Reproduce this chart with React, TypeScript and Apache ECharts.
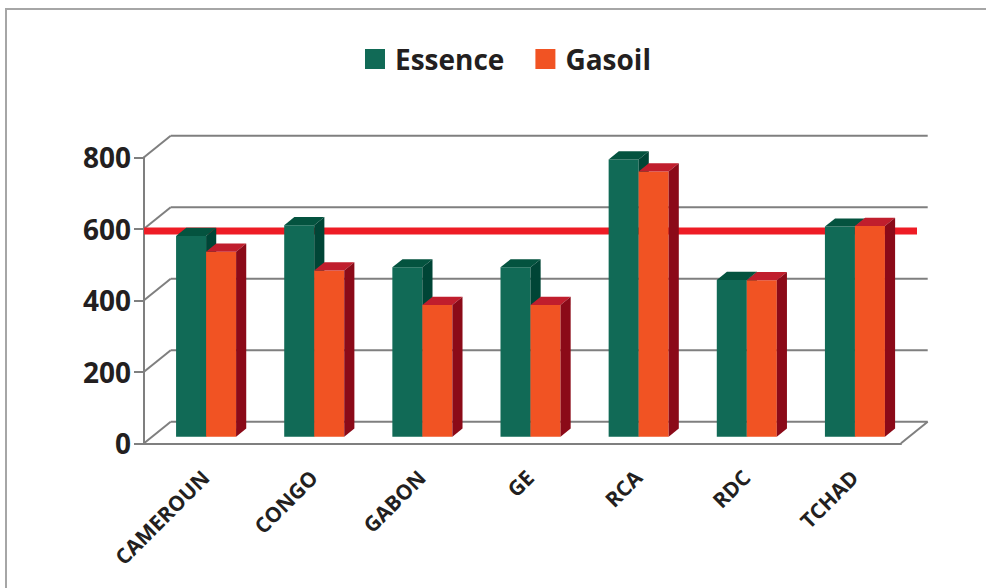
import React, { useEffect, useRef } from "react";
import * as echarts from "echarts";

// Prix à la pompe par pays (FCFA / litre)
const CATEGORIES = ["CAMEROUN", "CONGO", "GABON", "GE", "RCA", "RDC", "TCHAD"];
const ESSENCE = [562, 592, 474, 474, 776, 439, 588];
const GASOIL = [518, 465, 369, 369, 742, 438, 590];
const Y_TICKS = [0, 200, 400, 600, 800];
const REFERENCE = 594;

// Oblique projection of the chart box: back wall offset in pixels
const DX = 26.7;
const DY = -21.6;
// Bars sit between these depth fractions of the box
const BAR_FRONT = 0.3;
const BAR_DEPTH = 0.38;
const BAR_FRAC = 0.2775;

const FONT = "'Open Sans', 'Noto Sans', sans-serif";
const TEXT = "#231f20";
const AXIS = "#7f7f7f";

const ESSENCE_COLORS = { front: "#116a56", top: "#04533f", side: "#004536" };
const GASOIL_COLORS = { front: "#f15323", top: "#c01e2d", side: "#8b0a18" };

function barRenderer(side: "left" | "right", c: { front: string; top: string; side: string }) {
  return (params: any, api: any) => {
    const cat = api.value(0);
    const v = api.value(1);
    const [cx, yTop0] = api.coord([cat, v]);
    const [, yBot0] = api.coord([cat, 0]);
    const band = api.size([1, 0])[0];
    const w = band * BAR_FRAC;
    const ox = BAR_FRONT * DX;
    const oy = BAR_FRONT * DY;
    const x0 = side === "left" ? cx + ox - w : cx + ox;
    const x1 = x0 + w;
    const yt = yTop0 + oy;
    const yb = yBot0 + oy;
    const dx = BAR_DEPTH * DX;
    const dy = BAR_DEPTH * DY;
    return {
      type: "group",
      children: [
        {
          type: "rect",
          shape: { x: x0, y: yt, width: w, height: yb - yt },
          style: { fill: c.front },
        },
        {
          type: "polygon",
          shape: {
            points: [
              [x0, yt],
              [x1, yt],
              [x1 + dx, yt + dy],
              [x0 + dx, yt + dy],
            ],
          },
          style: { fill: c.top },
        },
        {
          type: "polygon",
          shape: {
            points: [
              [x1, yt],
              [x1 + dx, yt + dy],
              [x1 + dx, yb + dy],
              [x1, yb],
            ],
          },
          style: { fill: c.side },
        },
      ],
    };
  };
}

function wallRenderer(params: any, api: any) {
  const cs = params.coordSys;
  const v = api.value(1);
  const y = api.coord([0, v])[1];
  const style = { stroke: AXIS, lineWidth: 2 };
  const children: any[] = [
    {
      type: "line",
      shape: { x1: cs.x, y1: y, x2: cs.x + DX, y2: y + DY },
      style,
    },
    {
      type: "line",
      shape: { x1: cs.x + DX, y1: y + DY, x2: cs.x + cs.width + DX, y2: y + DY },
      style,
    },
  ];
  if (v === 0) {
    children.push({
      type: "line",
      shape: { x1: cs.x + cs.width, y1: y, x2: cs.x + cs.width + DX, y2: y + DY },
      style,
    });
  }
  return { type: "group", children };
}

function referenceRenderer(params: any, api: any) {
  const cs = params.coordSys;
  const y = api.coord([0, api.value(1)])[1];
  return {
    type: "line",
    shape: { x1: cs.x, y1: y, x2: cs.x + cs.width + 16, y2: y },
    style: { stroke: "#ee1c25", lineWidth: 7 },
  };
}

export default function App() {
  const ref = useRef<HTMLDivElement>(null);

  useEffect(() => {
    if (!ref.current) return;
    const chart = echarts.init(ref.current, null, { renderer: "svg" });
    chart.setOption({
      animation: false,
      backgroundColor: "#ffffff",
      graphic: [
        {
          type: "rect",
          silent: true,
          shape: { x: 6, y: 9, width: 1000, height: 600 },
          style: { fill: "none", stroke: "#a6a6a6", lineWidth: 2 },
        },
      ],
      legend: {
        data: ["Essence", "Gasoil"],
        left: 360,
        top: 40,
        itemWidth: 20,
        itemHeight: 20,
        itemGap: 31,
        icon: "rect",
        selectedMode: false,
        textStyle: {
          fontFamily: FONT,
          fontWeight: "bold",
          fontSize: 28,
          color: TEXT,
          padding: [0, 0, 0, 5],
        },
      },
      grid: { left: 144, right: 85, top: 157.3, bottom: 144.7 },
      xAxis: {
        type: "category",
        data: CATEGORIES,
        axisLine: { lineStyle: { color: AXIS, width: 2 } },
        axisTick: { length: 6, lineStyle: { color: AXIS, width: 2 } },
        axisLabel: {
          interval: 0,
          rotate: 45,
          margin: 23,
          align: "right",
          verticalAlign: "top",
          fontFamily: FONT,
          fontWeight: "bold",
          fontSize: 21,
          color: TEXT,
        },
        splitLine: { show: false },
      },
      yAxis: {
        type: "value",
        min: 0,
        max: 800,
        interval: 200,
        axisLine: { show: true, lineStyle: { color: AXIS, width: 2 } },
        axisTick: { show: true, length: 10, lineStyle: { color: AXIS, width: 2 } },
        axisLabel: {
          margin: 13,
          fontFamily: FONT,
          fontWeight: "bold",
          fontSize: 28,
          color: TEXT,
        },
        splitLine: { show: false },
      },
      series: [
        {
          name: "wall",
          type: "custom",
          silent: true,
          renderItem: wallRenderer,
          data: Y_TICKS.map((v) => [0, v]),
          encode: { x: 0, y: 1 },
        },
        {
          name: "reference",
          type: "custom",
          silent: true,
          clip: false,
          renderItem: referenceRenderer,
          data: [[0, REFERENCE]],
          encode: { x: 0, y: 1 },
        },
        {
          name: "Essence",
          type: "custom",
          renderItem: barRenderer("left", ESSENCE_COLORS),
          itemStyle: { color: ESSENCE_COLORS.front },
          data: ESSENCE.map((v, i) => [i, v]),
          encode: { x: 0, y: 1 },
        },
        {
          name: "Gasoil",
          type: "custom",
          renderItem: barRenderer("right", GASOIL_COLORS),
          itemStyle: { color: GASOIL_COLORS.front },
          data: GASOIL.map((v, i) => [i, v]),
          encode: { x: 0, y: 1 },
        },
      ],
    });
    return () => chart.dispose();
  }, []);

  return (
    <div
      ref={ref}
      style={{ position: "absolute", left: 0, top: 0, width: 986, height: 588 }}
    />
  );
}
